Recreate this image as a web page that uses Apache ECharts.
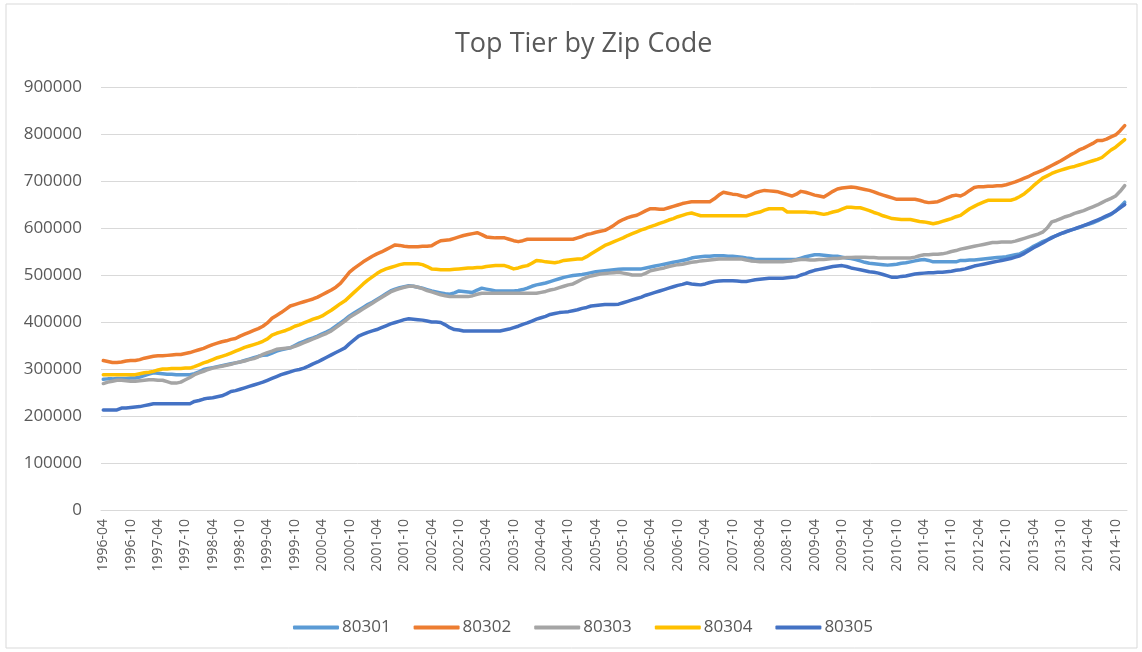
<!DOCTYPE html>
<html>
<head>
<meta charset="utf-8">
<title>Top Tier by Zip Code</title>
<script src="https://cdn.jsdelivr.net/npm/echarts@6/dist/echarts.min.js"></script>
<style>
  html, body { margin: 0; padding: 0; background: #fff; }
  #chart { width: 1142px; height: 652px; }
</style>
</head>
<body>
<div id="chart"></div>
<script>
// monthly, 1996-04 .. 2014-12
const startYear = 1996;
const startMonth = 4;
const monthCount = 225;

const zip80301 = [
  278000, 279000, 279000, 280000, 280000, 280000, 281000, 281000, 283000, 286000, 289000, 292000,
  291000, 290000, 289000, 289000, 288000, 288000, 288000, 288000, 290000, 294000, 299000, 301000,
  303000, 305000, 307000, 309000, 311000, 313000, 315000, 318000, 321000, 324000, 327000, 329000,
  330000, 334000, 338000, 341000, 343000, 345000, 350000, 355000, 359000, 363000, 366000, 370000,
  375000, 379000, 384000, 391000, 398000, 405000, 413000, 419000, 425000, 431000, 437000, 442000,
  448000, 454000, 460000, 466000, 470000, 473000, 475000, 477000, 476000, 474000, 472000, 469000,
  466000, 464000, 462000, 460000, 459000, 462000, 466000, 465000, 464000, 463000, 468000, 472000,
  470000, 468000, 466000, 466000, 466000, 466000, 466000, 467000, 469000, 472000, 476000, 479000,
  481000, 483000, 486000, 489000, 492000, 495000, 497000, 499000, 500000, 501000, 503000, 505000,
  507000, 508000, 509000, 510000, 511000, 512000, 513000, 513000, 513000, 513000, 513000, 515000,
  517000, 519000, 521000, 523000, 525000, 527000, 529000, 531000, 533000, 536000, 538000, 539000,
  540000, 540000, 541000, 541000, 541000, 540000, 540000, 539000, 538000, 536000, 535000, 533000,
  533000, 533000, 533000, 533000, 533000, 533000, 533000, 533000, 533000, 536000, 539000, 541000,
  543000, 543000, 542000, 541000, 540000, 540000, 538000, 536000, 535000, 533000, 530000, 527000,
  525000, 524000, 523000, 522000, 521000, 522000, 523000, 525000, 526000, 528000, 530000, 532000,
  533000, 531000, 528000, 528000, 528000, 528000, 528000, 528000, 531000, 531000, 532000, 532000,
  533000, 534000, 535000, 536000, 537000, 538000, 539000, 541000, 543000, 545000, 550000, 555000,
  561000, 566000, 571000, 575000, 580000, 584000, 588000, 591000, 595000, 598000, 601000, 605000,
  608000, 611000, 615000, 620000, 624000, 629000, 636000, 645000, 655000
];

const zip80302 = [
  318000, 316000, 314000, 314000, 315000, 317000, 318000, 318000, 320000, 323000, 325000, 327000,
  328000, 328000, 329000, 330000, 331000, 331000, 333000, 335000, 338000, 341000, 344000, 348000,
  352000, 355000, 358000, 360000, 363000, 365000, 370000, 374000, 378000, 382000, 386000, 391000,
  398000, 408000, 414000, 420000, 427000, 434000, 437000, 440000, 443000, 446000, 449000, 453000,
  458000, 463000, 468000, 474000, 482000, 494000, 506000, 514000, 521000, 528000, 534000, 540000,
  545000, 549000, 554000, 559000, 564000, 563000, 561000, 560000, 560000, 560000, 561000, 561000,
  562000, 568000, 573000, 574000, 575000, 578000, 581000, 584000, 586000, 588000, 590000, 586000,
  581000, 580000, 579000, 579000, 579000, 576000, 573000, 571000, 573000, 576000, 576000, 576000,
  576000, 576000, 576000, 576000, 576000, 576000, 576000, 576000, 579000, 582000, 586000, 588000,
  591000, 593000, 595000, 600000, 606000, 613000, 618000, 622000, 625000, 627000, 632000, 637000,
  641000, 641000, 640000, 640000, 643000, 646000, 649000, 652000, 654000, 656000, 656000, 656000,
  656000, 656000, 662000, 670000, 676000, 674000, 672000, 671000, 668000, 666000, 670000, 675000,
  678000, 680000, 679000, 678000, 677000, 674000, 671000, 668000, 672000, 678000, 676000, 673000,
  670000, 668000, 666000, 672000, 678000, 683000, 685000, 686000, 687000, 686000, 684000, 682000,
  680000, 677000, 673000, 670000, 667000, 664000, 661000, 661000, 661000, 661000, 661000, 659000,
  656000, 654000, 655000, 656000, 660000, 664000, 668000, 670000, 668000, 673000, 680000, 686000,
  688000, 688000, 689000, 689000, 690000, 690000, 692000, 695000, 698000, 702000, 706000, 710000,
  715000, 719000, 723000, 728000, 733000, 738000, 743000, 749000, 755000, 760000, 766000, 770000,
  775000, 780000, 786000, 786000, 789000, 794000, 798000, 807000, 818000
];

const zip80303 = [
  269000, 272000, 274000, 276000, 276000, 275000, 274000, 274000, 275000, 276000, 277000, 277000,
  276000, 276000, 273000, 270000, 270000, 272000, 277000, 282000, 288000, 292000, 295000, 299000,
  302000, 304000, 306000, 308000, 310000, 313000, 315000, 317000, 320000, 322000, 326000, 331000,
  335000, 338000, 342000, 343000, 344000, 345000, 348000, 352000, 356000, 360000, 364000, 368000,
  372000, 376000, 381000, 388000, 395000, 402000, 410000, 416000, 422000, 428000, 434000, 440000,
  446000, 452000, 458000, 464000, 468000, 471000, 474000, 476000, 476000, 474000, 471000, 467000,
  464000, 461000, 458000, 456000, 454000, 454000, 454000, 454000, 454000, 456000, 459000, 461000,
  461000, 461000, 461000, 461000, 461000, 461000, 461000, 461000, 461000, 461000, 461000, 461000,
  463000, 465000, 468000, 470000, 473000, 476000, 479000, 481000, 486000, 491000, 495000, 498000,
  500000, 502000, 503000, 504000, 505000, 506000, 504000, 502000, 500000, 500000, 500000, 504000,
  509000, 511000, 513000, 515000, 518000, 520000, 522000, 523000, 525000, 527000, 528000, 530000,
  531000, 532000, 533000, 534000, 534000, 534000, 534000, 534000, 534000, 532000, 530000, 529000,
  528000, 528000, 528000, 528000, 528000, 528000, 529000, 530000, 532000, 533000, 533000, 532000,
  532000, 533000, 533000, 534000, 535000, 535000, 536000, 537000, 537000, 538000, 538000, 538000,
  537000, 537000, 536000, 536000, 536000, 536000, 536000, 536000, 536000, 536000, 538000, 541000,
  543000, 543000, 544000, 544000, 545000, 547000, 550000, 552000, 555000, 557000, 559000, 561000,
  563000, 565000, 567000, 569000, 569000, 570000, 570000, 570000, 572000, 575000, 578000, 581000,
  584000, 587000, 591000, 600000, 613000, 616000, 620000, 624000, 627000, 631000, 634000, 637000,
  641000, 645000, 649000, 654000, 659000, 663000, 668000, 678000, 690000
];

const zip80304 = [
  288000, 288000, 288000, 288000, 288000, 288000, 288000, 288000, 290000, 292000, 293000, 295000,
  298000, 300000, 300000, 301000, 301000, 301000, 302000, 302000, 305000, 309000, 313000, 316000,
  320000, 324000, 327000, 330000, 334000, 338000, 342000, 346000, 349000, 352000, 355000, 359000,
  364000, 372000, 376000, 379000, 382000, 386000, 391000, 394000, 398000, 402000, 406000, 409000,
  413000, 419000, 425000, 432000, 439000, 445000, 454000, 463000, 472000, 481000, 489000, 496000,
  503000, 509000, 513000, 516000, 519000, 522000, 524000, 524000, 524000, 524000, 522000, 518000,
  513000, 512000, 511000, 511000, 511000, 512000, 513000, 514000, 515000, 515000, 516000, 516000,
  518000, 519000, 520000, 520000, 520000, 517000, 513000, 515000, 518000, 520000, 525000, 531000,
  530000, 528000, 527000, 526000, 528000, 531000, 532000, 533000, 534000, 534000, 539000, 545000,
  551000, 557000, 563000, 567000, 571000, 575000, 579000, 584000, 588000, 592000, 596000, 599000,
  603000, 606000, 610000, 613000, 617000, 620000, 624000, 627000, 630000, 632000, 629000, 626000,
  626000, 626000, 626000, 626000, 626000, 626000, 626000, 626000, 626000, 626000, 629000, 632000,
  634000, 638000, 641000, 641000, 641000, 641000, 634000, 634000, 634000, 634000, 634000, 633000,
  633000, 631000, 629000, 631000, 634000, 636000, 640000, 644000, 644000, 643000, 643000, 640000,
  637000, 633000, 630000, 626000, 623000, 620000, 619000, 618000, 618000, 618000, 616000, 614000,
  613000, 611000, 609000, 611000, 614000, 617000, 620000, 624000, 627000, 634000, 641000, 646000,
  651000, 655000, 659000, 659000, 659000, 659000, 659000, 659000, 662000, 667000, 673000, 681000,
  690000, 698000, 706000, 711000, 716000, 720000, 723000, 726000, 729000, 731000, 734000, 737000,
  740000, 743000, 746000, 750000, 758000, 766000, 772000, 780000, 788000
];

const zip80305 = [
  213000, 213000, 213000, 213000, 217000, 217000, 218000, 219000, 220000, 222000, 224000, 226000,
  226000, 226000, 226000, 226000, 226000, 226000, 226000, 226000, 231000, 233000, 236000, 238000,
  239000, 241000, 243000, 247000, 252000, 254000, 257000, 260000, 263000, 266000, 269000, 272000,
  276000, 280000, 284000, 288000, 291000, 294000, 297000, 299000, 302000, 306000, 311000, 315000,
  320000, 325000, 330000, 335000, 340000, 345000, 354000, 362000, 370000, 374000, 378000, 381000,
  384000, 388000, 392000, 396000, 399000, 402000, 405000, 407000, 406000, 405000, 404000, 402000,
  400000, 400000, 399000, 394000, 388000, 384000, 383000, 381000, 381000, 381000, 381000, 381000,
  381000, 381000, 381000, 381000, 383000, 385000, 388000, 391000, 395000, 398000, 402000, 406000,
  409000, 412000, 416000, 418000, 420000, 421000, 422000, 424000, 426000, 429000, 431000, 434000,
  435000, 436000, 437000, 437000, 437000, 438000, 441000, 444000, 447000, 450000, 453000, 457000,
  460000, 463000, 466000, 469000, 472000, 475000, 478000, 480000, 483000, 481000, 480000, 479000,
  481000, 484000, 486000, 487000, 488000, 488000, 488000, 487000, 486000, 486000, 488000, 490000,
  491000, 492000, 493000, 493000, 493000, 493000, 494000, 495000, 496000, 500000, 503000, 507000,
  510000, 512000, 514000, 516000, 518000, 519000, 520000, 518000, 515000, 513000, 511000, 509000,
  507000, 506000, 504000, 501000, 498000, 495000, 495000, 497000, 498000, 500000, 502000, 503000,
  504000, 505000, 505000, 506000, 506000, 507000, 508000, 510000, 511000, 513000, 516000, 519000,
  521000, 523000, 525000, 527000, 529000, 531000, 533000, 535000, 538000, 541000, 546000, 552000,
  558000, 563000, 568000, 574000, 579000, 584000, 588000, 592000, 595000, 598000, 602000, 605000,
  609000, 613000, 617000, 621000, 626000, 630000, 636000, 643000, 650000
];

const seriesNames = ["80301", "80302", "80303", "80304", "80305"];
const seriesColors = ["#5B9BD5", "#ED7D31", "#A5A5A5", "#FFC000", "#4472C4"];
const seriesData = [zip80301, zip80302, zip80303, zip80304, zip80305];

// category labels "YYYY-MM"
const months = [];
for (let i = 0; i < monthCount; i++) {
  const m = startMonth - 1 + i;
  const y = startYear + Math.floor(m / 12);
  const mm = (m % 12) + 1;
  months.push(y + "-" + (mm < 10 ? "0" + mm : mm));
}

const font = "'Open Sans', 'Liberation Sans', sans-serif";
const textColor = "#595959";
const gridColor = "#d9d9d9";

const myChart = echarts.init(document.getElementById("chart"), null, { renderer: "canvas" });

const option = {
  backgroundColor: "#ffffff",
  animation: false,
  title: {
    text: "Top Tier by Zip Code",
    left: 450,
    top: 26,
    textStyle: {
      color: textColor,
      fontFamily: font,
      fontSize: 27,
      fontWeight: "normal",
    },
  },
  graphic: [
    {
      type: "rect",
      shape: { x: 6, y: 4, width: 1131, height: 644 },
      style: { fill: "none", stroke: gridColor, lineWidth: 1 },
      silent: true,
    },
  ],
  legend: {
    data: seriesNames,
    top: 614,
    left: 288,
    icon: "roundRect",
    itemWidth: 46,
    itemHeight: 4,
    itemGap: 23,
    textStyle: {
      color: textColor,
      fontFamily: font,
      fontSize: 17,
      padding: [0, 0, 0, -2],
    },
  },
  grid: {
    left: 101,
    right: 15,
    top: 87,
    bottom: 142,
  },
  xAxis: {
    type: "category",
    data: months,
    boundaryGap: true,
    axisLine: { lineStyle: { color: gridColor, width: 1 } },
    axisTick: { show: false },
    axisLabel: {
      interval: 5,
      rotate: 90,
      margin: 9,
      color: textColor,
      fontFamily: font,
      fontSize: 14,
    },
  },
  yAxis: {
    type: "value",
    min: 0,
    max: 900000,
    interval: 100000,
    axisLine: { show: false },
    axisTick: { show: false },
    splitLine: { lineStyle: { color: gridColor, width: 1 } },
    axisLabel: {
      margin: 19,
      color: textColor,
      fontFamily: font,
      fontSize: 17,
      formatter: (v) => String(v),
    },
  },
  series: seriesNames.map((name, k) => ({
    name: name,
    type: "line",
    data: seriesData[k],
    showSymbol: false,
    symbol: "none",
    lineStyle: { color: seriesColors[k], width: 3.5, cap: "round", join: "round" },
    itemStyle: { color: seriesColors[k] },
  })),
};

myChart.setOption(option);
</script>
</body>
</html>
